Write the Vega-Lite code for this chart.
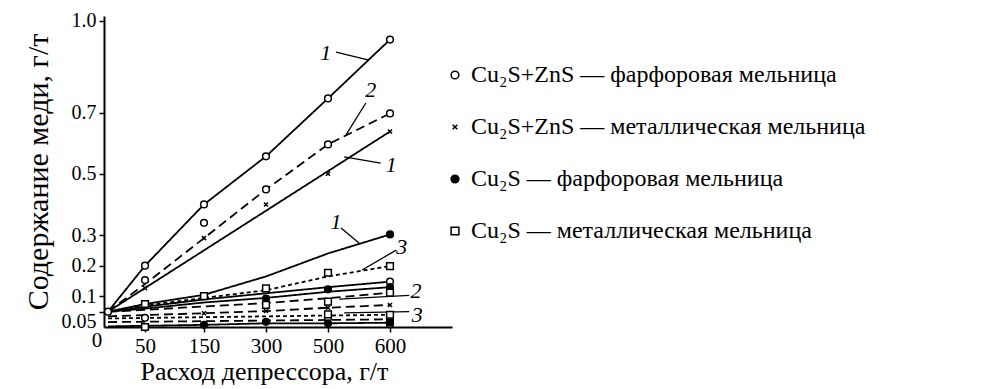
{
  "$schema": "https://vega.github.io/schema/vega-lite/v6.json",
  "autosize": {"type": "none"},
  "width": 348,
  "height": 311,
  "padding": {"left": 104, "top": 16, "right": 538, "bottom": 62},
  "background": "white",
  "config": {
    "view": {"stroke": null},
    "font": "Liberation Serif",
    "axis": {
      "grid": false,
      "domainColor": "black",
      "domainWidth": 2,
      "tickColor": "black",
      "tickWidth": 1.5,
      "tickSize": 5,
      "labelColor": "black",
      "labelFont": "Liberation Serif",
      "labelFontSize": 21,
      "labelOverlap": false,
      "titleColor": "black",
      "titleFont": "Liberation Serif",
      "titleFontWeight": "normal",
      "titleFontSize": 26
    }
  },
  "datasets": {
    "lines": [
      {"s": "S1", "d": "1", "x": 0, "y": 0.05}, {"s": "S1", "d": "1", "x": 50, "y": 0.2}, {"s": "S1", "d": "1", "x": 150, "y": 0.4}, {"s": "S1", "d": "1", "x": 300, "y": 0.557}, {"s": "S1", "d": "1", "x": 500, "y": 0.746}, {"s": "S1", "d": "1", "x": 600, "y": 0.938},
      {"s": "S2", "d": "2", "x": 0, "y": 0.05}, {"s": "S2", "d": "2", "x": 50, "y": 0.14}, {"s": "S2", "d": "2", "x": 150, "y": 0.29}, {"s": "S2", "d": "2", "x": 300, "y": 0.449}, {"s": "S2", "d": "2", "x": 500, "y": 0.596}, {"s": "S2", "d": "2", "x": 600, "y": 0.697},
      {"s": "S3", "d": "1", "x": 0, "y": 0.05}, {"s": "S3", "d": "1", "x": 600, "y": 0.638},
      {"s": "S4", "d": "1", "x": 0, "y": 0.05}, {"s": "S4", "d": "1", "x": 50, "y": 0.075}, {"s": "S4", "d": "1", "x": 150, "y": 0.105}, {"s": "S4", "d": "1", "x": 300, "y": 0.165}, {"s": "S4", "d": "1", "x": 500, "y": 0.24}, {"s": "S4", "d": "1", "x": 600, "y": 0.302},
      {"s": "S5", "d": "3", "x": 0, "y": 0.05}, {"s": "S5", "d": "3", "x": 50, "y": 0.07}, {"s": "S5", "d": "3", "x": 150, "y": 0.095}, {"s": "S5", "d": "3", "x": 300, "y": 0.12}, {"s": "S5", "d": "3", "x": 500, "y": 0.165}, {"s": "S5", "d": "3", "x": 600, "y": 0.199},
      {"s": "S6", "d": "1", "x": 0, "y": 0.05}, {"s": "S6", "d": "1", "x": 50, "y": 0.066}, {"s": "S6", "d": "1", "x": 150, "y": 0.09}, {"s": "S6", "d": "1", "x": 300, "y": 0.11}, {"s": "S6", "d": "1", "x": 500, "y": 0.13}, {"s": "S6", "d": "1", "x": 600, "y": 0.148},
      {"s": "S7", "d": "1", "x": 0, "y": 0.05}, {"s": "S7", "d": "1", "x": 50, "y": 0.06}, {"s": "S7", "d": "1", "x": 150, "y": 0.08}, {"s": "S7", "d": "1", "x": 300, "y": 0.095}, {"s": "S7", "d": "1", "x": 500, "y": 0.115}, {"s": "S7", "d": "1", "x": 600, "y": 0.13},
      {"s": "S8", "d": "2", "x": 0, "y": 0.05}, {"s": "S8", "d": "2", "x": 50, "y": 0.056}, {"s": "S8", "d": "2", "x": 150, "y": 0.067}, {"s": "S8", "d": "2", "x": 300, "y": 0.078}, {"s": "S8", "d": "2", "x": 500, "y": 0.094}, {"s": "S8", "d": "2", "x": 600, "y": 0.112},
      {"s": "S9", "d": "2", "x": 0, "y": 0.035}, {"s": "S9", "d": "2", "x": 150, "y": 0.045}, {"s": "S9", "d": "2", "x": 300, "y": 0.052}, {"s": "S9", "d": "2", "x": 500, "y": 0.063}, {"s": "S9", "d": "2", "x": 600, "y": 0.072},
      {"s": "S10", "d": "3", "x": 0, "y": 0.028}, {"s": "S10", "d": "3", "x": 600, "y": 0.04},
      {"s": "S11", "d": "2", "x": 0, "y": 0.016}, {"s": "S11", "d": "2", "x": 600, "y": 0.025},
      {"s": "S12", "d": "1", "x": 0, "y": 0.002}, {"s": "S12", "d": "1", "x": 150, "y": 0.007}, {"s": "S12", "d": "1", "x": 300, "y": 0.012}, {"s": "S12", "d": "1", "x": 500, "y": 0.012}, {"s": "S12", "d": "1", "x": 600, "y": 0.014}
    ],
    "pts": [
      {"g": "Cu₂S+ZnS — фарфоровая мельница", "x": 0, "y": 0.05},
      {"g": "Cu₂S+ZnS — фарфоровая мельница", "x": 50, "y": 0.2},
      {"g": "Cu₂S+ZnS — фарфоровая мельница", "x": 150, "y": 0.4},
      {"g": "Cu₂S+ZnS — фарфоровая мельница", "x": 300, "y": 0.557},
      {"g": "Cu₂S+ZnS — фарфоровая мельница", "x": 500, "y": 0.746},
      {"g": "Cu₂S+ZnS — фарфоровая мельница", "x": 600, "y": 0.938},
      {"g": "Cu₂S+ZnS — фарфоровая мельница", "x": 50, "y": 0.153},
      {"g": "Cu₂S+ZnS — фарфоровая мельница", "x": 150, "y": 0.34},
      {"g": "Cu₂S+ZnS — фарфоровая мельница", "x": 300, "y": 0.449},
      {"g": "Cu₂S+ZnS — фарфоровая мельница", "x": 500, "y": 0.596},
      {"g": "Cu₂S+ZnS — фарфоровая мельница", "x": 600, "y": 0.697},
      {"g": "Cu₂S+ZnS — фарфоровая мельница", "x": 50, "y": 0.03},
      {"g": "Cu₂S+ZnS — фарфоровая мельница", "x": 600, "y": 0.148},
      {"g": "Cu₂S+ZnS — фарфоровая мельница", "x": 600, "y": 0.023},
      {"g": "Cu₂S+ZnS — фарфоровая мельница", "x": 600, "y": 0.01},
      {"g": "Cu₂S+ZnS — фарфоровая мельница", "x": 500, "y": 0.03},
      {"g": "Cu₂S+ZnS — металлическая мельница", "x": 50, "y": 0.127},
      {"g": "Cu₂S+ZnS — металлическая мельница", "x": 150, "y": 0.29},
      {"g": "Cu₂S+ZnS — металлическая мельница", "x": 300, "y": 0.4},
      {"g": "Cu₂S+ZnS — металлическая мельница", "x": 500, "y": 0.5},
      {"g": "Cu₂S+ZnS — металлическая мельница", "x": 600, "y": 0.638},
      {"g": "Cu₂S+ZnS — металлическая мельница", "x": 150, "y": 0.045},
      {"g": "Cu₂S+ZnS — металлическая мельница", "x": 300, "y": 0.052},
      {"g": "Cu₂S+ZnS — металлическая мельница", "x": 500, "y": 0.063},
      {"g": "Cu₂S+ZnS — металлическая мельница", "x": 600, "y": 0.072},
      {"g": "Cu₂S+ZnS — металлическая мельница", "x": 600, "y": 0.04},
      {"g": "Cu₂S — фарфоровая мельница", "x": 600, "y": 0.302},
      {"g": "Cu₂S — фарфоровая мельница", "x": 500, "y": 0.123},
      {"g": "Cu₂S — фарфоровая мельница", "x": 600, "y": 0.13},
      {"g": "Cu₂S — фарфоровая мельница", "x": 300, "y": 0.093},
      {"g": "Cu₂S — фарфоровая мельница", "x": 150, "y": 0.007},
      {"g": "Cu₂S — фарфоровая мельница", "x": 300, "y": 0.017},
      {"g": "Cu₂S — фарфоровая мельница", "x": 500, "y": 0.012},
      {"g": "Cu₂S — фарфоровая мельница", "x": 600, "y": 0.015},
      {"g": "Cu₂S — металлическая мельница", "x": 50, "y": 0.075},
      {"g": "Cu₂S — металлическая мельница", "x": 150, "y": 0.101},
      {"g": "Cu₂S — металлическая мельница", "x": 300, "y": 0.126},
      {"g": "Cu₂S — металлическая мельница", "x": 500, "y": 0.177},
      {"g": "Cu₂S — металлическая мельница", "x": 600, "y": 0.199},
      {"g": "Cu₂S — металлическая мельница", "x": 300, "y": 0.072},
      {"g": "Cu₂S — металлическая мельница", "x": 500, "y": 0.083},
      {"g": "Cu₂S — металлическая мельница", "x": 600, "y": 0.112},
      {"g": "Cu₂S — металлическая мельница", "x": 500, "y": 0.041},
      {"g": "Cu₂S — металлическая мельница", "x": 600, "y": 0.04},
      {"g": "Cu₂S — металлическая мельница", "x": 50, "y": 0.0}
    ],
    "labels": [
      {"t": "1", "x": 493, "y": 0.894},
      {"t": "2", "x": 569, "y": 0.773},
      {"t": "1", "x": 602, "y": 0.529},
      {"t": "1", "x": 513, "y": 0.343},
      {"t": "3", "x": 619, "y": 0.261},
      {"t": "2", "x": 642, "y": 0.119},
      {"t": "3", "x": 644, "y": 0.039}
    ],
    "leaders": [
      {"x": 513, "y": 0.897, "x2": 566, "y2": 0.871},
      {"x": 561, "y": 0.731, "x2": 529, "y2": 0.627},
      {"x": 585, "y": 0.535, "x2": 526, "y2": 0.555},
      {"x": 521, "y": 0.323, "x2": 550, "y2": 0.274},
      {"x": 610, "y": 0.251, "x2": 555, "y2": 0.186},
      {"x": 631, "y": 0.103, "x2": 518, "y2": 0.091},
      {"x": 631, "y": 0.05, "x2": 526, "y2": 0.046}
    ],
    "zero": [{"t": "0", "x": -15, "y": -0.045}]
  },
  "encoding": {
    "x": {
      "field": "x", "type": "quantitative",
      "scale": {"type": "linear", "domain": [-5.4, 0, 50, 150, 300, 500, 600, 700], "range": [0, 4, 41, 100, 162, 224, 286, 348], "nice": false, "zero": false, "clamp": false},
      "axis": {"values": [50, 150, 300, 500, 600], "title": "Расход депрессора, г/т", "labelPadding": 3, "titlePadding": 2, "titleX": 160, "titleAnchor": "start", "titleAlign": "center"}
    },
    "y": {
      "field": "y", "type": "quantitative",
      "scale": {"domain": [0, 1.015], "nice": false, "zero": true},
      "axis": {
        "values": [0.05, 0.1, 0.2, 0.3, 0.5, 0.7, 1.0],
        "labelExpr": "datum.value == 1 ? '1.0' : datum.label",
        "format": ".2~f",
        "labelFontSize": 20,
        "labelBaseline": {"condition": {"test": "datum.value < 0.07", "value": "top"}, "value": "middle"},
        "title": "Содержание меди, г/т", "titleFontSize": 30, "titlePadding": 8, "labelPadding": 3
      }
    }
  },
  "layer": [
    {
      "data": {"name": "lines"},
      "mark": {"type": "line", "color": "black", "strokeWidth": 1.8, "clip": false},
      "encoding": {
        "detail": {"field": "s"},
        "strokeDash": {"field": "d", "type": "nominal", "scale": {"domain": ["1", "2", "3"], "range": [[1, 0], [9, 5], [4, 3]]}, "legend": null}
      }
    },
    {
      "data": {"name": "leaders"},
      "mark": {"type": "rule", "color": "black", "strokeWidth": 1.3},
      "encoding": {"x2": {"field": "x2"}, "y2": {"field": "y2"}}
    },
    {
      "data": {"name": "pts"},
      "mark": {"type": "point", "filled": true, "stroke": "black", "strokeWidth": 1.5, "size": 45, "opacity": 1, "clip": false},
      "encoding": {
        "shape": {
          "field": "g", "type": "nominal",
          "scale": {
            "domain": ["Cu₂S+ZnS — фарфоровая мельница", "Cu₂S+ZnS — металлическая мельница", "Cu₂S — фарфоровая мельница", "Cu₂S — металлическая мельница"],
            "range": ["circle", "M-0.6,-0.6L0.6,0.6M-0.6,0.6L0.6,-0.6", "circle", "square"]
          },
          "legend": {
            "orient": "none", "legendX": 339, "legendY": 47, "title": null,
            "labelFont": "Liberation Serif", "labelFontSize": 24, "labelColor": "black", "labelLimit": 0,
            "labelOffset": 4, "rowPadding": 28, "symbolSize": 60,
            "encode": {"symbols": {"update": {"stroke": {"value": "black"}, "strokeWidth": {"value": 1.5}, "opacity": {"value": 1}}}}
          }
        },
        "fill": {
          "field": "g", "type": "nominal",
          "scale": {
            "domain": ["Cu₂S+ZnS — фарфоровая мельница", "Cu₂S+ZnS — металлическая мельница", "Cu₂S — фарфоровая мельница", "Cu₂S — металлическая мельница"],
            "range": ["white", "white", "black", "white"]
          },
          "legend": {
            "orient": "none", "legendX": 339, "legendY": 47, "title": null,
            "labelFont": "Liberation Serif", "labelFontSize": 24, "labelColor": "black", "labelLimit": 0,
            "labelOffset": 4, "rowPadding": 28, "symbolSize": 60,
            "encode": {"symbols": {"update": {"stroke": {"value": "black"}, "strokeWidth": {"value": 1.5}, "opacity": {"value": 1}}}}
          }
        }
      }
    },
    {
      "data": {"name": "labels"},
      "mark": {"type": "text", "font": "Liberation Serif", "fontStyle": "italic", "fontSize": 22, "align": "center", "baseline": "middle", "color": "black", "clip": false},
      "encoding": {"text": {"field": "t"}}
    },
    {
      "data": {"name": "zero"},
      "mark": {"type": "text", "font": "Liberation Serif", "fontSize": 21, "align": "center", "baseline": "middle", "color": "black", "clip": false},
      "encoding": {"text": {"field": "t"}}
    }
  ]
}
